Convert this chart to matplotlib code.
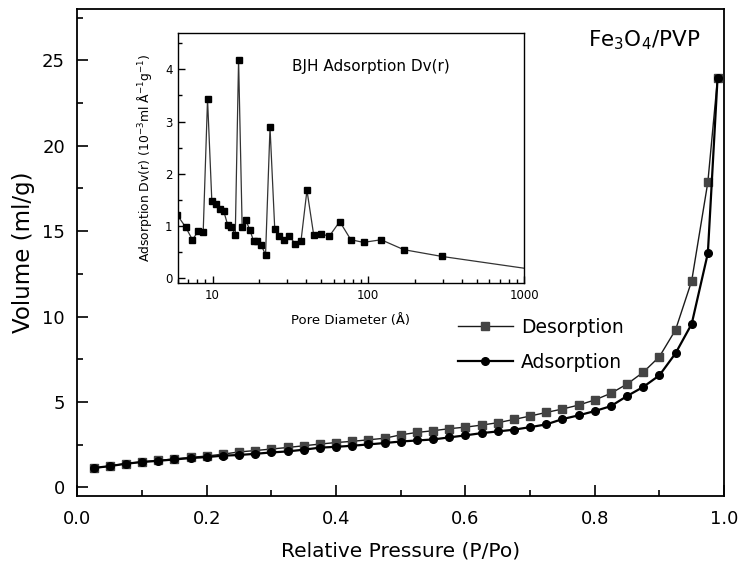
import matplotlib
matplotlib.use("Agg")
import matplotlib.pyplot as plt
from matplotlib.ticker import (MultipleLocator, FixedLocator, FixedFormatter,
                               NullFormatter, LogLocator, FormatStrFormatter)

plt.rcParams['font.family'] = ['DejaVu Sans']
plt.rcParams['mathtext.fontset'] = 'dejavusans'

# ---- main isotherm data ----
pressure = [0.025, 0.05, 0.075, 0.1, 0.125, 0.15, 0.175, 0.2, 0.225, 0.25,
            0.275, 0.3, 0.325, 0.35, 0.375, 0.4, 0.425, 0.45, 0.475, 0.5,
            0.525, 0.55, 0.575, 0.6, 0.625, 0.65, 0.675, 0.7, 0.725, 0.75,
            0.775, 0.8, 0.825, 0.85, 0.875, 0.9, 0.925, 0.95, 0.975, 0.99]
adsorption = [1.14, 1.25, 1.39, 1.49, 1.56, 1.64, 1.72, 1.78, 1.86, 1.90,
              1.97, 2.05, 2.11, 2.21, 2.33, 2.38, 2.44, 2.52, 2.60, 2.69,
              2.75, 2.81, 2.93, 3.05, 3.18, 3.28, 3.38, 3.53, 3.69, 4.00,
              4.22, 4.47, 4.76, 5.35, 5.88, 6.56, 7.85, 9.57, 13.71, 23.96]
desorption = [1.12, 1.26, 1.40, 1.50, 1.58, 1.67, 1.76, 1.84, 1.95, 2.08,
              2.16, 2.25, 2.34, 2.44, 2.54, 2.63, 2.70, 2.79, 2.88, 3.08,
              3.22, 3.32, 3.44, 3.53, 3.65, 3.79, 3.98, 4.18, 4.39, 4.59,
              4.82, 5.12, 5.51, 6.05, 6.74, 7.65, 9.22, 12.09, 17.87, 23.96]

# ---- inset BJH data ----
pore_diameter = [5.95, 6.73, 7.43, 8.08, 8.71, 9.29, 9.90, 10.5, 11.2, 11.8,
                 12.5, 13.2, 14.0, 14.7, 15.5, 16.4, 17.4, 18.4, 19.4, 20.6,
                 21.9, 23.4, 25.1, 26.8, 28.8, 31.1, 34.0, 37.0, 40.4, 44.6,
                 49.7, 56.3, 65.6, 77.3, 93.3, 121, 169, 297, 1200]
dv = [1.20, 0.97, 0.73, 0.89, 0.87, 3.43, 1.47, 1.42, 1.33, 1.28,
      1.02, 0.97, 0.83, 4.19, 0.97, 1.10, 0.91, 0.70, 0.70, 0.62,
      0.44, 2.89, 0.93, 0.81, 0.73, 0.80, 0.65, 0.71, 1.68, 0.83,
      0.84, 0.80, 1.08, 0.73, 0.68, 0.73, 0.54, 0.41, 0.15]

inset_xticks = [10, 100, 1000]
inset_xticklabels = ['10', '100', '1000']

fig = plt.figure(figsize=(7.40, 5.67), dpi=100)
ax = fig.add_axes([0.1047, 0.1252, 0.8737, 0.8589])

ax.plot(pressure, desorption, '-', color='#1a1a1a', lw=1.0, marker='s',
        markersize=6, markerfacecolor='#444444', markeredgecolor='#444444',
        label='Desorption', zorder=3)
ax.plot(pressure, adsorption, '-', color='black', lw=1.6, marker='o',
        markersize=5.5, markerfacecolor='black', markeredgecolor='black',
        label='Adsorption', zorder=4)

ax.set_xlim(0, 1.0)
ax.set_ylim(-0.5, 28)
ax.xaxis.set_major_locator(MultipleLocator(0.2))
ax.xaxis.set_minor_locator(MultipleLocator(0.1))
ax.yaxis.set_major_locator(MultipleLocator(5))
ax.yaxis.set_minor_locator(MultipleLocator(2.5))
ax.xaxis.set_major_formatter(FormatStrFormatter('%.1f'))
ax.tick_params(which='both', direction='in', top=False, right=False, labelsize=13, width=1.2)
ax.tick_params(which='major', length=8)
ax.tick_params(which='minor', length=4.5)
ax.tick_params(axis='x', which='major', pad=10)
ax.tick_params(axis='y', which='major', pad=9)
for s in ax.spines.values():
    s.set_linewidth(1.3)
ax.set_xlabel('Relative Pressure (P/Po)', fontsize=14.5, labelpad=10)
ax.set_ylabel('Volume (ml/g)', fontsize=16.5)
ax.yaxis.set_label_coords(-0.066, 0.5)

ax.text(0.963, 0.935, 'Fe$_3$O$_4$/PVP', transform=ax.transAxes, fontsize=15.5,
        ha='right', va='center')

leg = ax.legend(loc='upper left', bbox_to_anchor=(0.589, 0.366), frameon=False,
                fontsize=13.5, handlelength=2.9, handletextpad=0.43,
                labelspacing=0.85, borderpad=0, borderaxespad=0)

# ---- inset ----
ins = fig.add_axes([0.2405, 0.5009, 0.4676, 0.4409])
ins.plot(pore_diameter, dv, '-', color='#333333', lw=0.9, marker='s',
         markersize=3.8, markerfacecolor='black', markeredgecolor='black')
ins.set_xscale('log')
ins.set_xlim(6, 1000)
ins.set_ylim(-0.1, 4.7)
ins.xaxis.set_major_locator(FixedLocator(inset_xticks))
ins.xaxis.set_major_formatter(FixedFormatter(inset_xticklabels))
ins.xaxis.set_minor_locator(LogLocator(base=10, subs=range(2, 10)))
ins.xaxis.set_minor_formatter(NullFormatter())
ins.yaxis.set_major_locator(MultipleLocator(1))
ins.yaxis.set_minor_locator(MultipleLocator(0.5))
ins.tick_params(which='both', direction='in', top=False, right=False, labelsize=8.5, width=1.0)
ins.tick_params(which='major', length=5, pad=4)
ins.tick_params(which='minor', length=3)
for s in ins.spines.values():
    s.set_linewidth(1.0)
ins.set_xlabel('Pore Diameter (\u00c5)', fontsize=9.5, labelpad=9)
ins.set_ylabel('Adsorption Dv(r) (10$^{-3}$ml \u00c5$^{-1}$g$^{-1}$)', fontsize=8.9, labelpad=8)
ins.text(0.558, 0.864, 'BJH Adsorption Dv(r)', transform=ins.transAxes, fontsize=11,
         ha='center', va='center')

fig.savefig('out.png', dpi=100)
